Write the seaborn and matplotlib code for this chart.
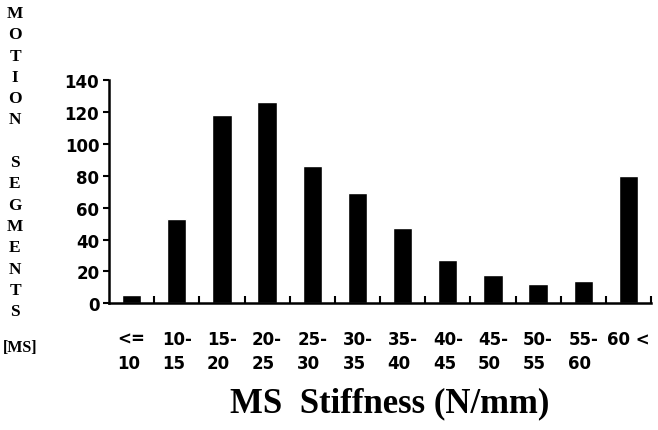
import matplotlib
matplotlib.use("Agg")
import matplotlib.pyplot as plt
import seaborn as sns
import numpy as np
import pandas as pd

# ---- data ----
ranges = ["<=\n10", "10-\n15", "15-\n20", "20-\n25", "25-\n30", "30-\n35",
          "35-\n40", "40-\n45", "45-\n50", "50-\n55", "55-\n60", "60 <\n"]
counts = [5, 53, 118, 126, 86, 69, 47, 27, 18, 12, 14, 80]
y_ticks = [0, 20, 40, 60, 80, 100, 120, 140]
y_title_letters = "MOTION SEGMENTS"
y_title_unit = "[MS]"
x_title = "MS  Stiffness (N/mm)"

sns.set_theme(style="white")
plt.rcParams["font.family"] = ["DejaVu Sans"]
plt.rcParams["text.color"] = "black"
plt.rcParams["xtick.color"] = "black"
plt.rcParams["ytick.color"] = "black"
plt.rcParams["axes.labelcolor"] = "black"

W, H = 658, 431
fig = plt.figure(figsize=(W / 100, H / 100), dpi=100)
ax_l, ax_r, ax_b, ax_t = 109, 651, 304.3, 81
ax = fig.add_axes([ax_l / W, 1 - ax_b / H, (ax_r - ax_l) / W, (ax_b - ax_t) / H])

df = pd.DataFrame({"range": ranges, "count": counts})
sns.barplot(data=df, x="range", y="count", color="black", saturation=1,
            width=0.43, ax=ax)

ax.set_xlim(-0.5, len(ranges) - 0.5)
ax.set_ylim(0, 140)
ax.set_yticks(y_ticks)
ax.set_xlabel("")
ax.set_ylabel("")

for s in ["top", "right"]:
    ax.spines[s].set_visible(False)
for s in ["left", "bottom"]:
    ax.spines[s].set_linewidth(1.8)
    ax.spines[s].set_color("black")

ax.tick_params(axis="y", direction="out", length=4, width=1.5, colors="black",
               labelsize=12, pad=3, left=True)
for lab in ax.get_yticklabels():
    lab.set_fontweight("bold")

ax.tick_params(axis="x", which="major", length=0, labelsize=12, pad=19,
               labelcolor="black")
for lab in ax.get_xticklabels():
    lab.set_fontweight("bold")
    lab.set_multialignment("left")
    lab.set_linespacing(1.45)

ax.set_xticks(np.arange(0.5, len(ranges), 1), minor=True)
ax.tick_params(axis="x", which="minor", direction="in", length=5, width=1.5,
               color="black", bottom=True)

# x-axis title
fig.text(390 / W, 1 - 404 / H, x_title, ha="center", va="center",
         fontsize=25, fontweight="bold", color="black",
         family=["Liberation Serif"])

# stacked vertical y-axis title
for i, ch in enumerate(y_title_letters):
    if ch == " ":
        continue
    fig.text(15 / W, 1 - (14 + i * 21.3) / H, ch, ha="center", va="center",
             fontsize=12.5, fontweight="bold", color="black",
             family=["Liberation Serif"])
fig.text(20 / W, 1 - 348 / H, y_title_unit, ha="center", va="center",
         fontsize=11.5, fontweight="bold", color="black",
         family=["Liberation Serif"])

fig.savefig("out.png", dpi=100)
